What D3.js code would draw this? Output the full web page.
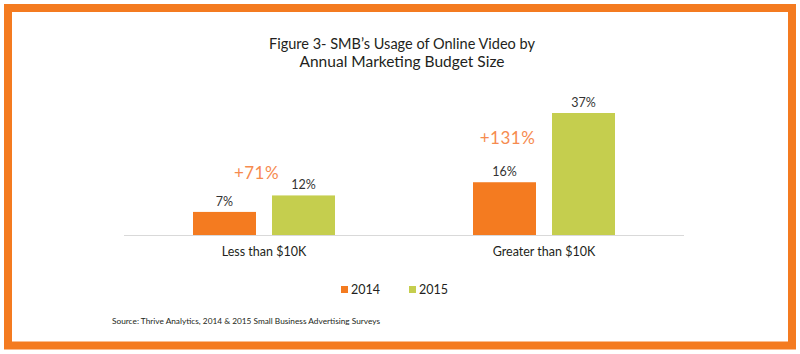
<!DOCTYPE html>
<html><head><meta charset="utf-8">
<script src="https://cdn.jsdelivr.net/npm/d3@7"></script>
<style>body{margin:0;background:#fff}svg{display:block}text{font-family:Lato,"Open Sans",sans-serif}</style>
</head><body><svg id="c" width="800" height="354"></svg>
<script>
const categories = ["Less than $10K", "Greater than $10K"];
const series = ["2014", "2015"];
const values2014 = [7, 16];
const values2015 = [12, 37];
const growthLabels = ["+71%", "+131%"];
const titleLines = ["Figure 3- SMB\u2019s Usage of Online Video by", "Annual Marketing Budget Size"];
const sourceText = "Source: Thrive Analytics, 2014 & 2015 Small Business Advertising Surveys";

const colors = {"2014": "#F47B20", "2015": "#C5CE4E"};
const svg = d3.select("#c");

// frame
svg.append("rect").attr("x", 8).attr("y", 8).attr("width", 784).attr("height", 337.5)
  .attr("fill", "none").attr("stroke", "#F47B20").attr("stroke-width", 8);

// title
svg.append("g").selectAll("text").data(titleLines).join("text")
  .attr("x", 402).attr("y", (d, i) => 49 + i * 18)
  .attr("text-anchor", "middle").attr("font-size", 14.5).attr("fill", "#231f20")
  .attr("textLength", (d, i) => i === 0 ? 266 : 205).attr("lengthAdjust", "spacingAndGlyphs")
  .text(d => d);

const baseY = 235;
const x0 = d3.scaleBand().domain(categories).range([124, 684]);
const x1 = d3.scaleBand().domain(series).range([0, 142]).paddingInner(16 / 79);
const y = d3.scaleLinear().domain([0, 37]).range([baseY, 113]);

const data = categories.map((c, i) => ({cat: c, vals: [
  {s: "2014", v: values2014[i]}, {s: "2015", v: values2015[i]}], growth: growthLabels[i]}));

const groupOffset = (x0.bandwidth() - 142) / 2;
const g = svg.append("g").selectAll("g").data(data).join("g")
  .attr("transform", d => `translate(${x0(d.cat) + groupOffset},0)`);

g.selectAll("rect").data(d => d.vals).join("rect")
  .attr("x", d => x1(d.s)).attr("width", x1.bandwidth())
  .attr("y", d => y(d.v)).attr("height", d => baseY - y(d.v))
  .attr("fill", d => colors[d.s]);

g.selectAll("text.val").data(d => d.vals).join("text").attr("class", "val")
  .attr("x", d => x1(d.s) + x1.bandwidth() / 2).attr("y", d => y(d.v) - 6)
  .attr("text-anchor", "middle").attr("font-size", 12.5).attr("fill", "#333")
  .text(d => d.v + "%");

// growth annotations
const annOffsets = [{dx: 63.5, dy: -33}, {dx: 34.5, dy: -38}];
g.append("text")
  .attr("x", (d, i) => x1("2014") + annOffsets[i].dx)
  .attr("y", (d, i) => y(d.vals[0].v) + annOffsets[i].dy)
  .attr("text-anchor", "middle").attr("font-size", 17).attr("fill", "#F68B4F")
  .attr("letter-spacing", 0.5)
  .text(d => d.growth);

// axis line
svg.append("line").attr("x1", 124).attr("x2", 684).attr("y1", baseY + 0.5).attr("y2", baseY + 0.5)
  .attr("stroke", "#d9d9d9").attr("stroke-width", 1);

// category labels
svg.append("g").selectAll("text").data(categories).join("text")
  .attr("x", d => x0(d) + x0.bandwidth() / 2).attr("y", 256)
  .attr("text-anchor", "middle").attr("font-size", 12.5).attr("fill", "#231f20")
  .text(d => d);

// legend
const legendX = [341, 409];
const lg = svg.append("g").selectAll("g").data(series).join("g")
  .attr("transform", (d, i) => `translate(${legendX[i]},286)`);
lg.append("rect").attr("width", 7).attr("height", 7).attr("fill", d => colors[d]);
lg.append("text").attr("x", 10).attr("y", 8).attr("font-size", 12.5).attr("fill", "#231f20").text(d => d);

// source
svg.append("text").attr("x", 112).attr("y", 324).attr("font-size", 7.5).attr("fill", "#231f20")
  .attr("textLength", 268).attr("lengthAdjust", "spacingAndGlyphs").text(sourceText);
</script></body></html>
